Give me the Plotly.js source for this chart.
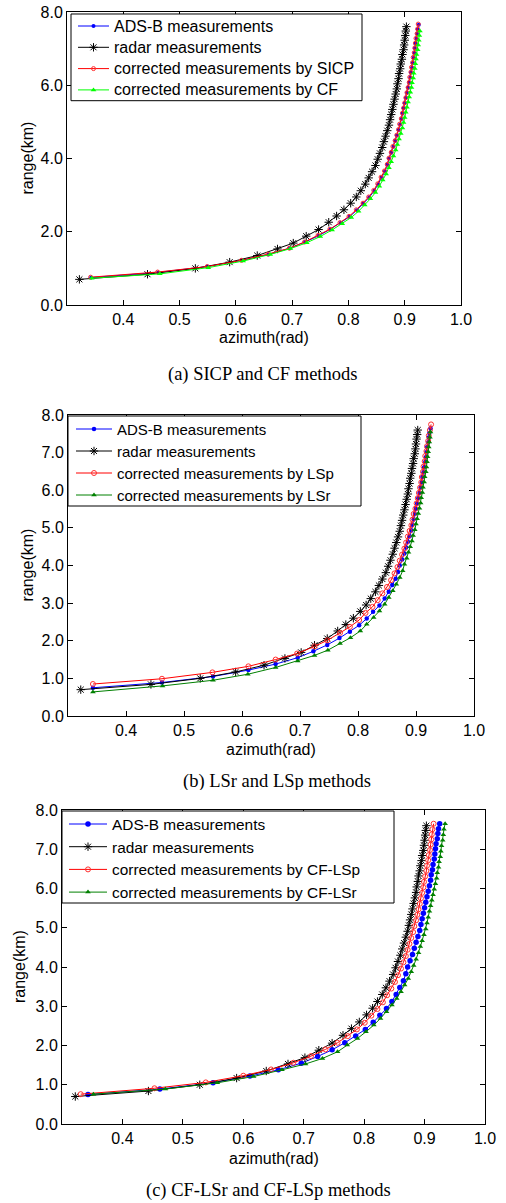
<!DOCTYPE html>
<html><head><meta charset="utf-8">
<script src="https://cdn.plot.ly/plotly-3.0.1.min.js"></script>
<style>
body{margin:0;background:#fff;width:506px;height:1203px;overflow:hidden;position:relative}
.p{position:absolute;left:0;width:506px}
</style>
</head><body>
<div id="a" class="p" style="top:0;height:390px"></div>
<div id="b" class="p" style="top:390px;height:400px"></div>
<div id="c" class="p" style="top:790px;height:413px"></div>
<script>
// ---------- data ----------
const xTicks = [0.4, 0.5, 0.6, 0.7, 0.8, 0.9, 1.0];
const yTicksA = [0, 2, 4, 6, 8];
const yTicksBC = [0, 1, 2, 3, 4, 5, 6, 7, 8];

const adsbRange = [0.75, 0.89, 1.05, 1.22, 1.38, 1.55, 1.72, 1.89, 2.07, 2.24,
  2.41, 2.59, 2.77, 2.94, 3.12, 3.30, 3.48, 3.65, 3.83, 4.00,
  4.16, 4.32, 4.48, 4.63, 4.78, 4.93, 5.08, 5.23, 5.37, 5.51,
  5.65, 5.79, 5.93, 6.07, 6.21, 6.35, 6.48, 6.61, 6.75, 6.88,
  7.01, 7.14, 7.27, 7.40, 7.52, 7.65];
const adsbAz = [0.343, 0.462, 0.550, 0.611, 0.658, 0.696, 0.723, 0.747, 0.768, 0.786,
  0.802, 0.815, 0.826, 0.837, 0.846, 0.853, 0.859, 0.865, 0.869, 0.872,
  0.876, 0.880, 0.883, 0.886, 0.889, 0.892, 0.894, 0.896, 0.898, 0.900,
  0.902, 0.904, 0.906, 0.908, 0.910, 0.911, 0.913, 0.914, 0.916, 0.917,
  0.918, 0.919, 0.921, 0.922, 0.923, 0.925];

const radarRange = [0.70, 0.84, 1.00, 1.17, 1.35, 1.53, 1.69, 1.88, 2.06, 2.26,
  2.43, 2.60, 2.78, 2.95, 3.12, 3.30, 3.47, 3.64, 3.81, 3.98,
  4.14, 4.30, 4.46, 4.61, 4.76, 4.91, 5.06, 5.20, 5.34, 5.48,
  5.62, 5.76, 5.90, 6.04, 6.18, 6.32, 6.45, 6.58, 6.71, 6.84,
  6.97, 7.10, 7.23, 7.36, 7.48, 7.60];
const radarAz = [0.322, 0.443, 0.528, 0.589, 0.638, 0.674, 0.702, 0.725, 0.747, 0.765,
  0.779, 0.792, 0.804, 0.814, 0.822, 0.830, 0.836, 0.842, 0.848, 0.852,
  0.856, 0.860, 0.863, 0.866, 0.869, 0.872, 0.874, 0.876, 0.878, 0.880,
  0.882, 0.884, 0.886, 0.887, 0.889, 0.890, 0.892, 0.893, 0.895, 0.896,
  0.898, 0.899, 0.900, 0.901, 0.902, 0.903];

// (a) SICP and CF
const sicpRange = [0.76, 0.90, 1.05, 1.22, 1.39, 1.55, 1.72, 1.90, 2.07, 2.25,
  2.42, 2.60, 2.78, 2.95, 3.13, 3.31, 3.49, 3.66, 3.84, 4.01,
  4.17, 4.33, 4.49, 4.64, 4.79, 4.94, 5.09, 5.24, 5.38, 5.52,
  5.66, 5.80, 5.94, 6.08, 6.22, 6.36, 6.49, 6.62, 6.76, 6.89,
  7.02, 7.15, 7.28, 7.41, 7.54, 7.67];
const sicpAz = [0.342, 0.461, 0.549, 0.610, 0.657, 0.695, 0.722, 0.746, 0.767, 0.785,
  0.801, 0.814, 0.826, 0.836, 0.845, 0.852, 0.858, 0.864, 0.869, 0.872,
  0.876, 0.879, 0.883, 0.886, 0.889, 0.891, 0.894, 0.896, 0.898, 0.900,
  0.902, 0.904, 0.906, 0.908, 0.909, 0.911, 0.912, 0.914, 0.915, 0.917,
  0.918, 0.919, 0.920, 0.922, 0.923, 0.924];
const cfRange = [0.73, 0.85, 1.02, 1.20, 1.38, 1.54, 1.70, 1.87, 2.05, 2.22,
  2.39, 2.56, 2.73, 2.90, 3.07, 3.24, 3.41, 3.58, 3.75, 3.91,
  4.07, 4.23, 4.38, 4.53, 4.68, 4.83, 4.98, 5.12, 5.26, 5.40,
  5.54, 5.68, 5.81, 5.94, 6.07, 6.20, 6.33, 6.46, 6.59, 6.72,
  6.84, 6.97, 7.10, 7.23, 7.36, 7.48];
const cfAz = [0.344, 0.465, 0.551, 0.613, 0.661, 0.697, 0.726, 0.750, 0.771, 0.789,
  0.805, 0.818, 0.829, 0.839, 0.848, 0.855, 0.861, 0.867, 0.872, 0.876,
  0.880, 0.884, 0.887, 0.890, 0.893, 0.896, 0.898, 0.900, 0.902, 0.904,
  0.906, 0.908, 0.910, 0.912, 0.913, 0.915, 0.916, 0.918, 0.919, 0.920,
  0.921, 0.923, 0.924, 0.925, 0.926, 0.927];

// (b) LSp and LSr
const lspRange = [0.85, 0.99, 1.16, 1.32, 1.50, 1.66, 1.85, 2.01, 2.21, 2.37,
  2.55, 2.74, 2.90, 3.08, 3.26, 3.43, 3.61, 3.79, 3.96, 4.13,
  4.29, 4.45, 4.61, 4.77, 4.92, 5.07, 5.22, 5.37, 5.51, 5.65,
  5.79, 5.93, 6.07, 6.21, 6.35, 6.49, 6.63, 6.77, 6.91, 7.04,
  7.17, 7.31, 7.45, 7.60, 7.75];
const lspAz = [0.343, 0.462, 0.549, 0.611, 0.658, 0.695, 0.725, 0.747, 0.769, 0.786,
  0.802, 0.813, 0.825, 0.834, 0.842, 0.850, 0.857, 0.863, 0.868, 0.872,
  0.876, 0.880, 0.883, 0.886, 0.889, 0.892, 0.894, 0.896, 0.899, 0.901,
  0.903, 0.905, 0.907, 0.909, 0.910, 0.912, 0.913, 0.915, 0.916, 0.918,
  0.919, 0.921, 0.922, 0.924, 0.926];
const lsrRange = [0.64, 0.80, 0.95, 1.11, 1.29, 1.46, 1.61, 1.75, 1.93, 2.08,
  2.26, 2.44, 2.62, 2.79, 2.97, 3.15, 3.33, 3.50, 3.68, 3.86,
  4.03, 4.19, 4.35, 4.50, 4.65, 4.80, 4.95, 5.10, 5.24, 5.38,
  5.52, 5.66, 5.80, 5.94, 6.08, 6.22, 6.36, 6.49, 6.62, 6.76,
  6.89, 7.02, 7.15, 7.28, 7.41, 7.55];
const lsrAz = [0.343, 0.463, 0.550, 0.610, 0.658, 0.696, 0.725, 0.748, 0.769, 0.787,
  0.804, 0.815, 0.827, 0.837, 0.846, 0.853, 0.860, 0.866, 0.872, 0.877,
  0.880, 0.884, 0.887, 0.890, 0.893, 0.895, 0.898, 0.900, 0.902, 0.904,
  0.906, 0.908, 0.909, 0.911, 0.912, 0.914, 0.915, 0.917, 0.918, 0.919,
  0.920, 0.921, 0.922, 0.923, 0.924, 0.925];

// (c) CF-LSp and CF-LSr
const cflspRange = [0.76, 0.91, 1.06, 1.23, 1.39, 1.56, 1.73, 1.90, 2.07, 2.24,
  2.41, 2.58, 2.76, 2.93, 3.10, 3.28, 3.45, 3.62, 3.79, 3.96,
  4.12, 4.28, 4.44, 4.59, 4.74, 4.89, 5.04, 5.19, 5.33, 5.47,
  5.61, 5.75, 5.89, 6.03, 6.17, 6.31, 6.45, 6.58, 6.72, 6.85,
  6.98, 7.12, 7.25, 7.38, 7.51, 7.65];
const cflspAz = [0.331, 0.453, 0.538, 0.600, 0.646, 0.683, 0.712, 0.736, 0.756, 0.773,
  0.788, 0.801, 0.812, 0.822, 0.831, 0.838, 0.845, 0.851, 0.856, 0.861,
  0.865, 0.869, 0.872, 0.875, 0.878, 0.881, 0.883, 0.886, 0.888, 0.890,
  0.892, 0.894, 0.896, 0.898, 0.899, 0.901, 0.903, 0.904, 0.906, 0.907,
  0.909, 0.910, 0.911, 0.912, 0.913, 0.915];
const cflsrRange = [0.76, 0.89, 1.05, 1.21, 1.38, 1.53, 1.67, 1.84, 2.01, 2.18,
  2.35, 2.52, 2.69, 2.86, 3.03, 3.20, 3.37, 3.54, 3.71, 3.88,
  4.04, 4.20, 4.36, 4.52, 4.67, 4.82, 4.97, 5.12, 5.27, 5.42,
  5.56, 5.70, 5.84, 5.98, 6.12, 6.26, 6.40, 6.54, 6.68, 6.81,
  6.95, 7.09, 7.23, 7.37, 7.51, 7.65];
const cflsrAz = [0.352, 0.471, 0.557, 0.617, 0.664, 0.703, 0.731, 0.756, 0.772, 0.789,
  0.803, 0.816, 0.827, 0.837, 0.846, 0.854, 0.861, 0.867, 0.873, 0.878,
  0.882, 0.886, 0.890, 0.893, 0.896, 0.899, 0.902, 0.904, 0.906, 0.908,
  0.910, 0.912, 0.914, 0.916, 0.918, 0.920, 0.921, 0.923, 0.924, 0.926,
  0.927, 0.928, 0.930, 0.931, 0.932, 0.934];

// ---------- drawing ----------
const SANS = 'Liberation Sans, Arial, Helvetica, sans-serif';
const SERIF = 'Liberation Serif, Times New Roman, serif';

function lbl(text, size) {
  return '<span style="font-size:' + size + 'px">' + text + '</span>';
}
function adsbTrace(fs, ms) {
  return {x: adsbAz, y: adsbRange, name: lbl('ADS-B measurements', fs), type: 'scatter', mode: 'lines+markers',
    line: {color: '#0000ff', width: 1}, marker: {symbol: 'circle', size: ms, color: '#0000ff'}};
}
function radarTrace(fs) {
  return {x: radarAz, y: radarRange, name: lbl('radar measurements', fs), type: 'scatter', mode: 'lines+markers',
    line: {color: '#000000', width: 1}, marker: {symbol: 'asterisk-open', size: 7, line: {color: '#3a3a3a', width: 1}}};
}
function redTrace(x, y, name, fs, sym, size) {
  return {x: x, y: y, name: lbl(name, fs), type: 'scatter', mode: 'lines+markers',
    line: {color: '#ff0000', width: 1}, marker: {symbol: sym, size: size, color: '#ff3030', line: {color: '#ff0000', width: 1}}};
}
function greenTrace(x, y, name, fs, color) {
  return {x: x, y: y, name: lbl(name, fs), type: 'scatter', mode: 'lines+markers',
    line: {color: color, width: 1}, marker: {symbol: 'triangle-up', size: 5, color: color}};
}

function makeLayout(o) {
  const W = 506;
  const pw = W - o.l - o.r, ph = o.h - o.t - o.b;
  const px2x = (px) => (px - o.l) / pw;
  const py2y = (py) => (o.h - o.b - (py - o.top)) / ph;
  const axBase = {
    ticks: 'inside', ticklen: 5, tickcolor: '#000', tickwidth: 1,
    showline: true, linecolor: '#000', linewidth: 1, mirror: 'ticks',
    showgrid: false, zeroline: false, tickformat: '.1f',
    tickfont: {family: SANS, size: o.fs, color: '#000'}, fixedrange: true
  };
  return {
    width: W, height: o.h,
    margin: {l: o.l, r: o.r, t: o.t, b: o.b, pad: 0},
    paper_bgcolor: '#fff', plot_bgcolor: '#fff',
    showlegend: true,
    xaxis: Object.assign({}, axBase, {range: [0.3, 1.0], tickmode: 'array', tickvals: xTicks}),
    yaxis: Object.assign({}, axBase, {range: [0, 8], tickmode: 'array', tickvals: o.yt}),
    legend: {x: px2x(o.box[0] + o.lgOff), y: py2y(o.row1 - o.rowH / 2 - 5), xanchor: 'left', yanchor: 'top',
      bgcolor: 'rgba(0,0,0,0)', borderwidth: 0,
      font: {family: SANS, size: (o.rowH - 3) / 1.3, color: '#000'},
      itemwidth: o.iw, tracegroupgap: 0},
    shapes: [
      {type: 'rect', xref: 'paper', yref: 'paper', layer: 'above',
        x0: px2x(o.box[0]), x1: px2x(o.box[1]), y0: py2y(o.box[3]), y1: py2y(o.box[2]),
        fillcolor: '#ffffff', line: {color: '#000', width: 1}}
    ],
    annotations: [
      {text: 'azimuth(rad)', xref: 'paper', yref: 'paper', x: 0.5, y: 0, yshift: o.xtShift,
        xanchor: 'center', yanchor: 'middle', showarrow: false, font: {family: SANS, size: o.fs, color: '#000'}},
      {text: 'range(km)', xref: 'paper', yref: 'paper', x: 0, y: 0.5, xshift: o.ytShift, textangle: -90,
        xanchor: 'center', yanchor: 'middle', showarrow: false, font: {family: SANS, size: o.fs, color: '#000'}},
      {text: o.caption, xref: 'paper', yref: 'paper', x: 0.5, y: 0, xshift: o.capX, yshift: o.capY,
        xanchor: 'center', yanchor: 'middle', showarrow: false, font: {family: SERIF, size: 18.5, color: '#000'}}
    ]
  };
}

const cfg = {staticPlot: true, displayModeBar: false};

Plotly.newPlot('a', [
  adsbTrace(16, 4), radarTrace(16),
  redTrace(sicpAz, sicpRange, 'corrected measurements by SICP', 16, 'circle-open', 4),
  greenTrace(cfAz, cfRange, 'corrected measurements by CF', 16, '#00ff00')
], makeLayout({top: 0, h: 390, l: 67, r: 45, t: 11, b: 85, fs: 16, yt: yTicksA,
  box: [71, 362, 13, 100], lgOff: 2, row1: 26, rowH: 21.3, iw: 31,
  xtShift: -32, ytShift: -40, caption: '(a) SICP and CF methods', capX: -2, capY: -69}), cfg);

Plotly.newPlot('b', [
  adsbTrace(15, 4.5), radarTrace(15),
  redTrace(lspAz, lspRange, 'corrected measurements by LSp', 15, 'circle-open', 5),
  greenTrace(lsrAz, lsrRange, 'corrected measurements by LSr', 15, '#008000')
], makeLayout({top: 390, h: 400, l: 68, r: 32, t: 25, b: 74, fs: 16, yt: yTicksBC,
  box: [68, 361, 416, 506], lgOff: 3, row1: 429, rowH: 22, iw: 36,
  xtShift: -33, ytShift: -41, caption: '(b) LSr and LSp methods', capX: 6, capY: -65}), cfg);

Plotly.newPlot('c', [
  adsbTrace(15.4, 5.5), radarTrace(15.4),
  redTrace(cflspAz, cflspRange, 'corrected measurements by CF-LSp', 15.4, 'circle-open', 5),
  greenTrace(cflsrAz, cflsrRange, 'corrected measurements by CF-LSr', 15.4, '#008000')
], makeLayout({top: 790, h: 413, l: 62, r: 21, t: 20, b: 79, fs: 16, yt: yTicksBC,
  box: [62, 394, 811, 903], lgOff: 2, row1: 824, rowH: 22.7, iw: 38,
  xtShift: -34, ytShift: -43, caption: '(c) CF-LSr and CF-LSp methods', capX: -5, capY: -66}), cfg);
</script>
</body></html>
